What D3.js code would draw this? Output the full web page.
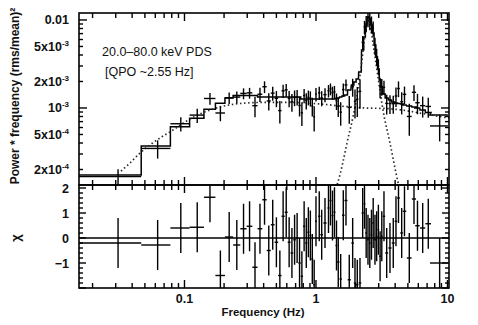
<!DOCTYPE html>
<html>
<head>
<meta charset="utf-8">
<script src="https://cdn.jsdelivr.net/npm/d3@7"></script>
<style>
  html, body { margin: 0; padding: 0; background: #fff; }
  svg { display: block; }
  text { font-family: "Liberation Sans", Arial, Helvetica, sans-serif; fill: #111; }
</style>
</head>
<body>
<svg id="chart" width="478" height="325"></svg>
<script>
// Power density spectrum, 20–80 keV: binned data (frequency, half bin width,
// power*frequency, 1-sigma error), best-fit model per bin and residuals (chi).
const freq = [
  0.03125, 0.0625, 0.09375, 0.125, 0.15625, 0.1875, 0.21875, 0.25, 0.28125, 0.3125,
  0.34375, 0.375, 0.40625, 0.4375, 0.46875, 0.5, 0.53125, 0.5625, 0.59375, 0.625,
  0.65625, 0.6875, 0.71875, 0.75, 0.78125, 0.8125, 0.84375, 0.875, 0.90625, 0.9375,
  0.96875, 1.0,
  1.059, 1.105, 1.171, 1.245, 1.289, 1.335, 1.382, 1.432, 1.477, 1.541, 1.613, 1.691,
  1.791, 1.901, 1.980, 2.061, 2.161, 2.265, 2.338, 2.408, 2.486, 2.566, 2.643, 2.723,
  2.810, 2.894, 2.982, 3.073, 3.166, 3.289, 3.449, 3.653, 3.870,
  4.058, 4.241, 4.484, 4.710, 5.124, 5.563, 5.914, 6.478, 7.145, 8.72
];
const freqHalfWidth = [
  0.015625, 0.015625, 0.015625, 0.015625, 0.015625, 0.015625, 0.015625, 0.015625, 0.015625, 0.015625,
  0.015625, 0.015625, 0.015625, 0.015625, 0.015625, 0.015625, 0.015625, 0.015625, 0.015625, 0.015625,
  0.015625, 0.015625, 0.015625, 0.015625, 0.015625, 0.015625, 0.015625, 0.015625, 0.015625, 0.015625,
  0.015625, 0.015625,
  0.022, 0.027, 0.033, 0.022, 0.023, 0.023, 0.024, 0.025, 0.031, 0.032, 0.037, 0.044,
  0.050, 0.043, 0.040, 0.043, 0.049, 0.044, 0.037, 0.036, 0.037, 0.038, 0.039, 0.041,
  0.042, 0.043, 0.044, 0.046, 0.047, 0.069, 0.091, 0.102, 0.102,
  0.092, 0.104, 0.110, 0.148, 0.215, 0.205, 0.228, 0.295, 0.350, 1.36
];
const power = [
  1.66e-4, 3.47e-4, 6.62e-4, 8.30e-4, 1.282e-3, 8.77e-4, 1.307e-3, 1.329e-3, 1.464e-3, 1.485e-3,
  1.062e-3, 1.433e-3, 1.742e-3, 1.201e-3, 1.475e-3, 1.289e-3, 9.34e-4, 1.566e-3, 1.609e-3, 1.289e-3,
  1.174e-3, 1.315e-3, 1.334e-3, 1.067e-3, 8.79e-4, 1.385e-3, 1.215e-3, 1.324e-3, 1.291e-3, 1.053e-3,
  7.93e-4, 1.436e-3,
  1.486e-3, 1.299e-3, 1.418e-3, 1.570e-3, 1.646e-3, 1.494e-3, 1.527e-3, 1.203e-3, 1.050e-3, 8.96e-4, 1.618e-3, 1.827e-3,
  1.014e-3, 1.745e-3, 1.192e-3, 1.258e-3, 1.546e-3, 5.56e-3, 8.34e-3, 9.16e-3, 1.065e-2, 9.94e-3, 9.02e-3, 8.05e-3,
  5.12e-3, 3.86e-3, 2.97e-3, 1.745e-3, 1.759e-3, 1.719e-3, 1.128e-3, 1.124e-3, 1.119e-3,
  1.369e-3, 1.665e-3, 1.177e-3, 1.428e-3, 8.01e-4, 1.506e-3, 1.147e-3, 1.063e-3, 1.041e-3, 6.25e-4
];
const powerErr = [
  3.5e-5, 8.1e-5, 1.23e-4, 1.53e-4, 1.93e-4, 1.70e-4, 1.95e-4, 2.08e-4, 2.08e-4, 2.08e-4,
  2.77e-4, 2.67e-4, 2.67e-4, 2.67e-4, 2.67e-4, 2.67e-4, 2.67e-4, 2.67e-4, 2.67e-4, 2.67e-4,
  2.67e-4, 2.67e-4, 2.67e-4, 2.67e-4, 2.53e-4, 2.53e-4, 2.53e-4, 2.53e-4, 2.53e-4, 2.53e-4,
  2.53e-4, 2.53e-4,
  2.53e-4, 2.53e-4, 2.53e-4, 2.53e-4, 2.53e-4, 2.53e-4, 2.53e-4, 2.56e-4, 2.60e-4, 2.67e-4, 2.74e-4, 2.81e-4,
  3.52e-4, 4.02e-4, 4.34e-4, 4.70e-4, 5.63e-4, 1.003e-3, 1.41e-3, 1.93e-3, 2.38e-3, 2.29e-3, 1.93e-3, 1.56e-3,
  1.14e-3, 8.4e-4, 6.1e-4, 4.58e-4, 3.81e-4, 3.17e-4, 2.86e-4, 2.71e-4, 2.57e-4,
  3.42e-4, 3.38e-4, 3.33e-4, 3.24e-4, 3.16e-4, 3.08e-4, 3.0e-4, 2.85e-4, 2.67e-4, 2.08e-4
];
const model = [
  1.73e-4, 3.70e-4, 6.13e-4, 7.64e-4, 9.67e-4, 1.131e-3, 1.299e-3, 1.387e-3, 1.387e-3, 1.387e-3,
  1.387e-3, 1.334e-3, 1.334e-3, 1.334e-3, 1.334e-3, 1.334e-3, 1.334e-3, 1.334e-3, 1.334e-3, 1.334e-3,
  1.334e-3, 1.334e-3, 1.334e-3, 1.334e-3, 1.266e-3, 1.266e-3, 1.266e-3, 1.266e-3, 1.266e-3, 1.266e-3,
  1.266e-3, 1.266e-3,
  1.266e-3, 1.266e-3, 1.266e-3, 1.266e-3, 1.266e-3, 1.266e-3, 1.266e-3, 1.28e-3, 1.299e-3, 1.334e-3, 1.369e-3, 1.405e-3,
  1.602e-3, 1.825e-3, 1.974e-3, 2.136e-3, 2.56e-3, 4.56e-3, 6.41e-3, 8.77e-3, 1.081e-2, 1.04e-2, 8.77e-3, 7.11e-3,
  5.20e-3, 3.80e-3, 2.77e-3, 2.08e-3, 1.733e-3, 1.443e-3, 1.299e-3, 1.233e-3, 1.17e-3,
  1.14e-3, 1.125e-3, 1.11e-3, 1.081e-3, 1.054e-3, 1.026e-3, 1.0e-3, 9.49e-4, 8.89e-4, 8.33e-4
];
const chi = [
  -0.2, -0.28, 0.4, 0.43, 1.63, -1.5, 0.04, -0.28, 0.37, 0.47,
  -1.17, 0.37, 1.53, -0.5, 0.53, -0.17, -1.5, 0.87, 1.03, -0.17,
  -0.6, -0.07, 0, -1.0, -1.53, 0.47, -0.2, 0.23, 0.1, -0.84,
  -1.87, 0.67,
  0.87, 0.13, 0.6, 1.2, 1.5, 0.9, 1.03, -0.3, -0.96, -1.64, 0.91, 1.5,
  -1.67, -0.2, -1.8, -1.87, -1.8, 1.0, 1.37, 0.2, -0.07, -0.2, 0.13, 0.6,
  -0.07, 0.07, 0.33, -0.73, 0.07, 0.87, -0.6, -0.4, -0.2,
  0.67, 1.6, 0.2, 1.07, -0.8, 1.56, 0.49, 0.4, 0.57, -1.0
];

// Model components: broad band-limited noise and the QPO Lorentzian
const broadFreq  = [0.0329, 0.0385, 0.0459, 0.0546, 0.0651, 0.0818, 0.1009, 0.1312, 0.1862, 0.2643,
                    0.375, 0.634, 1.073, 1.662, 2.359, 3.347, 4.751, 6.745, 10.27];
const broadPower = [1.92e-4, 2.37e-4, 3.08e-4, 3.80e-4, 4.56e-4, 5.62e-4, 6.93e-4, 8.55e-4, 1.027e-3, 1.125e-3,
                    1.155e-3, 1.155e-3, 1.11e-3, 1.04e-3, 1.0e-3, 9.87e-4, 9.37e-4, 8.55e-4, 7.70e-4];
const qpoFreq  = [1.347, 1.470, 1.604, 1.721, 1.911, 2.086, 2.238, 2.359, 2.486, 2.620, 2.761, 2.962,
                  3.232, 3.653, 4.203, 4.508];
const qpoPower = [1.0e-4, 1.44e-4, 2.43e-4, 4.0e-4, 7.9e-4, 1.60e-3, 3.51e-3, 6.75e-3, 1.0e-2, 7.70e-3,
                  4.56e-3, 2.25e-3, 9.49e-4, 4.0e-4, 1.44e-4, 9.49e-5];

// Axis labels
const powerTicks   = [2e-4, 5e-4, 1e-3, 2e-3, 5e-3, 1e-2];
const powerTickMan = ["2x10", "5x10", "10", "2x10", "5x10", "0.01"];
const powerTickExp = ["-4", "-4", "-3", "-3", "-3", ""];
const chiTicks     = [-1, 0, 1, 2];
const chiTickText  = ["\u22121", "0", "1", "2"];
const freqTicks    = [0.1, 1, 10];
const freqTickText = ["0.1", "1", "10"];

const L = 79, R = 449, T = 13, MID = 185, B = 288;

const x  = d3.scaleLog().domain([0.01577, 10.27]).range([L, R]);
const yP = d3.scaleLog().domain([1.333e-4, 0.012]).range([MID, T]);
const yC = d3.scaleLinear().domain([-2, 2.12]).range([B, MID]);

const svg = d3.select("#chart");
const defs = svg.append("defs");
defs.append("clipPath").attr("id", "clipTop")
  .append("rect").attr("x", L).attr("y", T).attr("width", R - L).attr("height", MID - T);
defs.append("clipPath").attr("id", "clipBot")
  .append("rect").attr("x", L).attr("y", MID).attr("width", R - L).attr("height", B - MID);

const bins = freq.map((f, i) => ({
  f, df: freqHalfWidth[i], p: power[i], e: powerErr[i], m: model[i], c: chi[i]
}));

// ---------- upper panel ----------
const upper = svg.append("g").attr("clip-path", "url(#clipTop)");

// model as a histogram over the bins
const stepPts = [];
bins.forEach(b => { stepPts.push([b.f - b.df, b.m]); stepPts.push([b.f + b.df, b.m]); });
upper.append("path")
  .attr("d", d3.line().x(d => x(d[0])).y(d => yP(d[1]))(stepPts))
  .attr("fill", "none").attr("stroke", "#000").attr("stroke-width", 1.5);

const dotted = d3.line().x(d => x(d[0])).y(d => yP(d[1])).curve(d3.curveMonotoneX);
[[broadFreq, broadPower], [qpoFreq, qpoPower]].forEach(([fs, ps]) => {
  upper.append("path")
    .attr("d", dotted(fs.map((f, i) => [f, ps[i]])))
    .attr("fill", "none").attr("stroke", "#2a2a2a").attr("stroke-width", 1.7)
    .attr("stroke-dasharray", "1.5,2.6");
});

const cross = upper.selectAll("g.pt").data(bins).join("g").attr("class", "pt");
cross.append("line")
  .attr("x1", d => x(d.f - d.df)).attr("x2", d => x(d.f + d.df))
  .attr("y1", d => yP(d.p)).attr("y2", d => yP(d.p));
cross.append("line")
  .attr("x1", d => x(d.f)).attr("x2", d => x(d.f))
  .attr("y1", d => yP(Math.max(d.p - d.e, 1e-5))).attr("y2", d => yP(d.p + d.e));
cross.selectAll("line").attr("stroke", "#000").attr("stroke-width", 1.4);

// ---------- residual panel ----------
const lower = svg.append("g").attr("clip-path", "url(#clipBot)");
lower.append("line")
  .attr("x1", L).attr("x2", R).attr("y1", yC(0)).attr("y2", yC(0))
  .attr("stroke", "#000").attr("stroke-width", 1.4);
const rc = lower.selectAll("g.rs").data(bins).join("g").attr("class", "rs");
rc.append("line")
  .attr("x1", d => x(d.f - d.df)).attr("x2", d => x(d.f + d.df))
  .attr("y1", d => yC(d.c)).attr("y2", d => yC(d.c));
rc.append("line")
  .attr("x1", d => x(d.f)).attr("x2", d => x(d.f))
  .attr("y1", d => yC(d.c - 1)).attr("y2", d => yC(d.c + 1));
rc.selectAll("line").attr("stroke", "#000").attr("stroke-width", 1.4);

// ---------- frames and ticks ----------
const axes = svg.append("g").attr("stroke", "#000").attr("stroke-width", 1.4);
const isDecade = v => Math.abs(Math.log10(v) - Math.round(Math.log10(v))) < 1e-6;

function xTicks(yEdge, dir) {
  x.ticks().forEach(t => {
    const len = isDecade(t) ? 8 : 5;
    axes.append("line").attr("x1", x(t)).attr("x2", x(t))
      .attr("y1", yEdge).attr("y2", yEdge + dir * len);
  });
}
xTicks(T, 1); xTicks(MID, -1); xTicks(MID, 1); xTicks(B, -1);

yP.ticks().forEach(t => {
  const len = isDecade(t) ? 8 : 4;
  axes.append("line").attr("x1", L).attr("x2", L + len).attr("y1", yP(t)).attr("y2", yP(t));
  axes.append("line").attr("x1", R).attr("x2", R - len).attr("y1", yP(t)).attr("y2", yP(t));
});

d3.range(-2, 2.101, 0.2).forEach(v => {
  const major = Math.abs(v - Math.round(v)) < 1e-6;
  const len = major ? 7 : 4;
  axes.append("line").attr("x1", L).attr("x2", L + len).attr("y1", yC(v)).attr("y2", yC(v));
  axes.append("line").attr("x1", R).attr("x2", R - len).attr("y1", yC(v)).attr("y2", yC(v));
});

axes.append("rect").attr("x", L).attr("y", T).attr("width", R - L).attr("height", MID - T)
  .attr("fill", "none").attr("stroke-width", 1.6);
axes.append("rect").attr("x", L).attr("y", MID).attr("width", R - L).attr("height", B - MID)
  .attr("fill", "none").attr("stroke-width", 1.6);

// ---------- tick labels ----------
const labels = svg.append("g").attr("font-weight", "bold").attr("font-size", 12.5);

powerTicks.forEach((v, i) => {
  const t = labels.append("text").attr("x", 69).attr("y", yP(v) + 4.5).attr("text-anchor", "end");
  t.append("tspan").text(powerTickMan[i]);
  if (powerTickExp[i]) {
    t.append("tspan").attr("font-size", 8).attr("dy", -5).text(powerTickExp[i]);
  }
});

chiTicks.forEach((v, i) => {
  labels.append("text").attr("x", 69).attr("y", yC(v) + 4.5)
    .attr("text-anchor", "end").text(chiTickText[i]);
});

freqTicks.forEach((v, i) => {
  labels.append("text").attr("x", x(v)).attr("y", 303)
    .attr("text-anchor", "middle").text(freqTickText[i]);
});

// ---------- titles ----------
svg.append("text").attr("x", 263).attr("y", 316).attr("text-anchor", "middle")
  .attr("font-weight", "bold").attr("font-size", 11.5).text("Frequency (Hz)");

svg.append("text").attr("transform", "translate(19,96) rotate(-90)")
  .attr("text-anchor", "middle").attr("font-weight", "bold").attr("font-size", 12)
  .text("Power * frequency (rms/mean)\u00B2");

svg.append("text").attr("transform", "translate(20,238) rotate(-90)")
  .attr("text-anchor", "middle").attr("font-weight", "bold").attr("font-size", 13)
  .text("\u03C7");

svg.append("text").attr("x", 102).attr("y", 55.5).attr("font-size", 12.5)
  .text("20.0\u201380.0 keV PDS");
svg.append("text").attr("x", 105).attr("y", 75.5).attr("font-size", 12.5)
  .text("[QPO ~2.55 Hz]");
</script>
</body>
</html>
